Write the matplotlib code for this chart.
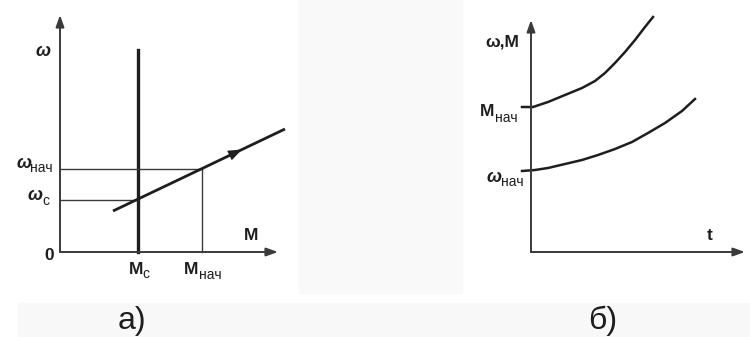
import numpy as np
import matplotlib.pyplot as plt
from matplotlib.patches import Rectangle

plt.rcParams['font.family'] = ['Liberation Sans', 'DejaVu Sans']

# а) static characteristic, units are arbitrary (schematic)
m_c = 78
m_nach = 142
w_c = 52
w_nach = 83
char_m = [53, 225]
char_w = [41, 123]
mc_line_top = 202

# б) start-up curves M(t) and ω(t)
t_m = [-9, 2, 17, 34, 51, 64, 74, 84, 94, 104, 114, 122]
m_t = [145, 145, 150, 157, 164, 171, 179, 189, 200, 212, 225, 235]
t_w = [-9, 4, 17, 34, 51, 67, 84, 101, 117, 134, 151, 164]
w_t = [81, 82, 84, 88, 92, 97, 103, 110, 119, 129, 141, 153]

ink = '#1e1e1e'
thin = '#3a3a3a'

fig = plt.figure(figsize=(7.5, 3.37), dpi=100)
fig.patch.set_facecolor('white')
fig.patches.append(Rectangle((299 / 750, 44 / 337), 163 / 750, 293 / 337,
                             transform=fig.transFigure, color='#f9f9f9', zorder=0))
fig.patches.append(Rectangle((18 / 750, 0), 732 / 750, 34 / 337,
                             transform=fig.transFigure, color='#f8f8f8', zorder=0))


def axis_arrow(ax, x0, y0, x1, y1):
    ax.annotate('', xy=(x1, y1), xytext=(x0, y0),
                arrowprops=dict(arrowstyle='-|>,head_length=0.7,head_width=0.25',
                                color=thin, lw=1.4, shrinkA=0, shrinkB=0))


def label(ax, x, y, s, size=12.5, style='normal', weight='bold', ha='center'):
    ax.text(x, y, s, ha=ha, va='center', fontsize=size, color=ink,
            fontstyle=style, fontweight=weight)


def sub(ax, x, y, s):
    label(ax, x, y, s, size=10, weight='normal', ha='left')


# ---- а)
ax1 = fig.add_axes([0, 47 / 337, 300 / 750, 290 / 337])
ax1.set_xlim(-60, 240)
ax1.set_ylim(-38, 252)
ax1.axis('off')
ax1.patch.set_alpha(0)

axis_arrow(ax1, 0, 0, 0, 237)
axis_arrow(ax1, 0, 0, 218, 0)
ax1.plot([m_c, m_c], [0, mc_line_top], color=ink, lw=2.4)
ax1.plot([0, m_nach], [w_nach, w_nach], color=thin, lw=1.0)
ax1.plot([m_nach, m_nach], [0, w_nach], color=thin, lw=1.0)
ax1.plot([0, m_c], [w_c, w_c], color=thin, lw=1.0)
ax1.plot(char_m, char_w, color=ink, lw=2.0, solid_capstyle='butt')
# direction arrow on the characteristic
k = (char_w[1] - char_w[0]) / (char_m[1] - char_m[0])
ax1.annotate('', xy=(182, char_w[0] + k * (182 - char_m[0])),
             xytext=(162, char_w[0] + k * (162 - char_m[0])),
             arrowprops=dict(arrowstyle='-|>,head_length=1.0,head_width=0.38',
                             color=ink, lw=0, shrinkA=0, shrinkB=0))

label(ax1, -17, 200, 'ω', size=13, style='italic')
label(ax1, -36, 89, 'ω', size=13, style='italic')
sub(ax1, -30, 84, 'нач')
label(ax1, -25, 56, 'ω', size=13, style='italic')
sub(ax1, -18, 51, 'c')
label(ax1, -11, -4, '0')
label(ax1, 191, 16, 'M')
label(ax1, 76, -18, 'M')
sub(ax1, 82, -22, 'c')
label(ax1, 131.5, -18, 'M')
sub(ax1, 139, -23, 'нач')

# ---- б)
ax2 = fig.add_axes([462 / 750, 47 / 337, 288 / 750, 290 / 337])
ax2.set_xlim(-69, 219)
ax2.set_ylim(-38, 252)
ax2.axis('off')
ax2.patch.set_alpha(0)

axis_arrow(ax2, 0, 0, 0, 232)
axis_arrow(ax2, 0, 0, 214, 0)
ax2.plot(t_m, m_t, color=ink, lw=1.8)
ax2.plot(t_w, w_t, color=ink, lw=1.8)

label(ax2, -29, 210, 'ω,M')
label(ax2, -44, 140, 'M')
sub(ax2, -36, 134, 'нач')
label(ax2, -37, 75, 'ω', size=13, style='italic')
sub(ax2, -30, 70, 'нач')
label(ax2, 179, 16, 't')

# panel captions
fig.text(132 / 750, 1 - 321 / 337, 'а)', ha='center', va='center', fontsize=23, color=ink)
fig.text(603 / 750, 1 - 321 / 337, 'б)', ha='center', va='center', fontsize=23, color=ink)

fig.savefig('out.png', dpi=100)
